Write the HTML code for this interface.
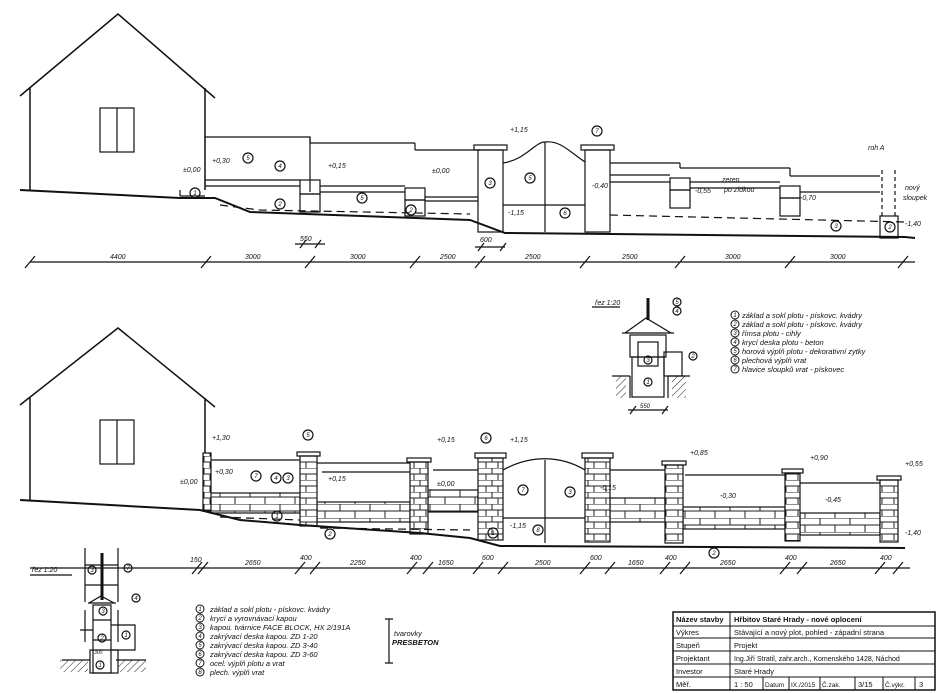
<!DOCTYPE html>
<html><head><meta charset="utf-8"><style>
html,body{margin:0;padding:0;background:#fff}
svg{display:block}
text{font-family:"Liberation Sans",sans-serif;font-style:italic;fill:#111}
.tb text{font-style:normal}
.n{font-size:6px;font-style:normal;text-anchor:middle}
</style></head><body>
<svg width="942" height="693" viewBox="0 0 942 693" xmlns="http://www.w3.org/2000/svg" stroke="#111" fill="none" stroke-width="1.2">
<defs>
<pattern id="brick" width="30" height="14" patternUnits="userSpaceOnUse">
<rect width="30" height="14" fill="#fff" stroke="none"/>
<path d="M0 0H30M0 7H30M10 0V7M25 7V14" stroke="#222" stroke-width="1"/>
</pattern>
<pattern id="pbrick" width="24" height="12" patternUnits="userSpaceOnUse">
<rect width="24" height="12" fill="#fff" stroke="none"/>
<path d="M0 0H24M0 6H24M12 0V6M6 6V12M18 6V12" stroke="#222" stroke-width="1"/>
</pattern>
<pattern id="hatch" width="5" height="5" patternUnits="userSpaceOnUse" patternTransform="rotate(45)">
<path d="M0 0V5" stroke="#222" stroke-width="1"/>
</pattern>
</defs>

<!-- ===== TOP ELEVATION ===== -->
<g>
<path d="M20 96 L118 14 L215 98 M30 88 V190 M205 88 V190" stroke-width="1.5"/>
<rect x="100" y="108" width="34" height="44"/><path d="M117 108V152"/>
<path d="M205 137H310V192 M310 143H415 M415 150H480 M610 163H680 M680 168H790 M790 176H880"/>
<path d="M310 137V143 M415 143V150 M680 163V168 M790 168V176"/>
<path d="M205 180H300 M205 186H300 M320 186H405 M320 192H405 M425 197H478 M425 201H478"/>
<rect x="300" y="180" width="20" height="14"/><rect x="300" y="194" width="20" height="18"/>
<rect x="405" y="188" width="20" height="12"/><rect x="405" y="200" width="20" height="16"/>
<path d="M180 196H205 M180 190V196"/>
<path d="M610 175H670 M610 182H670 M690 182H780 M690 188H780 M800 192H880"/>
<rect x="670" y="178" width="20" height="12"/><rect x="670" y="190" width="20" height="18"/>
<rect x="780" y="186" width="20" height="12"/><rect x="780" y="198" width="20" height="18"/>
<rect x="880" y="216" width="18" height="22"/>
<path d="M882 170V216 M895 170V216" stroke-dasharray="4 3"/>
<rect x="478" y="150" width="25" height="82"/><rect x="474" y="145" width="33" height="5"/>
<rect x="585" y="150" width="25" height="82"/><rect x="581" y="145" width="33" height="5"/>
<path d="M503 163 C525 160 535 142 545 142 C560 140 570 152 585 162 M545 142V232 M503 205H585"/>
<path d="M20 190 L180 198 L215 198 L250 212 L470 220 L505 233 L905 237 L915 238" stroke-width="2"/>
<path d="M220 205 L260 210 L470 214" stroke-dasharray="8 5"/>
<path d="M610 215 L905 222" stroke-dasharray="8 5"/>
<path d="M30 262H915"/>
<path d="M25 268L35 256 M201 268L211 256 M305 268L315 256 M410 268L420 256 M475 268L485 256 M580 268L590 256 M675 268L685 256 M785 268L795 256 M898 268L908 256"/>
<path d="M295 244H325 M300 248L306 240 M315 248L321 240 M475 247H505 M478 251L484 243 M500 251L506 243"/>
<g font-size="7" stroke="none">
<text x="110" y="259">4400</text><text x="245" y="259">3000</text><text x="350" y="259">3000</text><text x="440" y="259">2500</text><text x="525" y="259">2500</text><text x="622" y="259">2500</text><text x="725" y="259">3000</text><text x="830" y="259">3000</text>
<text x="300" y="241">550</text><text x="480" y="242">600</text>
<text x="183" y="172">±0,00</text><text x="212" y="163">+0,30</text><text x="328" y="168">+0,15</text><text x="432" y="173">±0,00</text><text x="510" y="132">+1,15</text><text x="592" y="188">-0,40</text><text x="695" y="193">-0,55</text><text x="722" y="182">zeren</text><text x="724" y="192">po zídkou</text><text x="800" y="200">-0,70</text><text x="868" y="150">roh A</text><text x="905" y="190">nový</text><text x="903" y="200">sloupek</text><text x="905" y="226">-1,40</text><text x="508" y="215">-1,15</text>
</g>
<g>
<circle cx="248" cy="158" r="5"/><circle cx="280" cy="166" r="5"/><circle cx="195" cy="193" r="5"/><circle cx="280" cy="204" r="5"/><circle cx="362" cy="198" r="5"/><circle cx="411" cy="210" r="5"/><circle cx="490" cy="183" r="5"/><circle cx="530" cy="178" r="5"/><circle cx="565" cy="213" r="5"/><circle cx="597" cy="131" r="5"/><circle cx="836" cy="226" r="5"/><circle cx="890" cy="227" r="5"/>
</g>
<g class="n" stroke="none">
<text x="248" y="160">5</text><text x="280" y="168">4</text><text x="195" y="195">1</text><text x="280" y="206">2</text><text x="362" y="200">5</text><text x="411" y="212">2</text><text x="490" y="185">3</text><text x="530" y="180">5</text><text x="565" y="215">6</text><text x="597" y="133">7</text><text x="836" y="228">3</text><text x="890" y="229">2</text>
</g>
</g>

<!-- ===== BOTTOM ELEVATION ===== -->
<g>
<path d="M20 405 L118 328 L215 407 M30 398 V500 M205 398 V500" stroke-width="1.5"/>
<rect x="100" y="420" width="34" height="44"/><path d="M117 420V464"/>
<path d="M210 460H300 M317 463H410 M322 472H410 M433 470H478 M610 470H665 M685 475H785 M785 483H880"/>
<rect x="210" y="493" width="90" height="20" fill="url(#brick)"/>
<rect x="317" y="502" width="93" height="20" fill="url(#brick)"/>
<rect x="428" y="490" width="50" height="22" fill="url(#brick)"/>
<rect x="610" y="498" width="55" height="24" fill="url(#brick)"/>
<rect x="683" y="507" width="102" height="22" fill="url(#brick)"/>
<rect x="800" y="513" width="80" height="22" fill="url(#brick)"/>
<g stroke-width="1.2">
<rect x="203" y="453" width="8" height="58" fill="url(#pbrick)"/>
<rect x="300" y="456" width="17" height="70" fill="url(#pbrick)"/><rect x="297" y="452" width="23" height="4"/>
<rect x="410" y="462" width="18" height="72" fill="url(#pbrick)"/><rect x="407" y="458" width="24" height="4"/>
<rect x="478" y="458" width="25" height="82" fill="url(#pbrick)"/><rect x="475" y="453" width="31" height="5"/>
<rect x="585" y="458" width="25" height="84" fill="url(#pbrick)"/><rect x="582" y="453" width="31" height="5"/>
<rect x="665" y="465" width="18" height="78" fill="url(#pbrick)"/><rect x="662" y="461" width="24" height="4"/>
<rect x="785" y="473" width="15" height="68" fill="url(#pbrick)"/><rect x="782" y="469" width="21" height="4"/>
<rect x="880" y="480" width="18" height="62" fill="url(#pbrick)"/><rect x="877" y="476" width="24" height="4"/>
</g>
<path d="M503 470 C530 455 560 455 585 470 M545 460V543 M503 518H585"/>
<path d="M20 500 L200 510 L240 520 L300 525 L420 533 L470 538 L500 546 L905 548" stroke-width="2"/>
<path d="M220 517 L300 520 M320 528L470 530" stroke-dasharray="8 5"/>
<path d="M30 568H910"/>
<path d="M192 574L202 562 M198 574L208 562 M295 574L305 562 M310 574L320 562 M407 574L417 562 M423 574L433 562 M473 574L483 562 M498 574L508 562 M580 574L590 562 M605 574L615 562 M660 574L670 562 M680 574L690 562 M780 574L790 562 M797 574L807 562 M875 574L885 562 M893 574L903 562"/>
<g font-size="7" stroke="none">
<text x="190" y="562">150</text><text x="245" y="565">2650</text><text x="300" y="560">400</text><text x="350" y="565">2250</text><text x="410" y="560">400</text><text x="438" y="565">1650</text><text x="482" y="560">600</text><text x="535" y="565">2500</text><text x="590" y="560">600</text><text x="628" y="565">1650</text><text x="665" y="560">400</text><text x="720" y="565">2650</text><text x="785" y="560">400</text><text x="830" y="565">2650</text><text x="880" y="560">400</text>
<text x="212" y="440">+1,30</text><text x="215" y="474">+0,30</text><text x="180" y="484">±0,00</text><text x="328" y="481">+0,15</text><text x="437" y="486">±0,00</text><text x="437" y="442">+0,15</text><text x="510" y="442">+1,15</text><text x="510" y="528">-1,15</text><text x="600" y="490">-0,15</text><text x="690" y="455">+0,85</text><text x="720" y="498">-0,30</text><text x="825" y="502">-0,45</text><text x="810" y="460">+0,90</text><text x="905" y="466">+0,55</text><text x="905" y="535">-1,40</text>
</g>
<circle cx="256" cy="476" r="5"/><circle cx="276" cy="478" r="5"/><circle cx="288" cy="478" r="5"/><circle cx="277" cy="516" r="5"/><circle cx="330" cy="534" r="5"/><circle cx="308" cy="435" r="5"/><circle cx="486" cy="438" r="5"/><circle cx="493" cy="533" r="5"/><circle cx="523" cy="490" r="5"/><circle cx="570" cy="492" r="5"/><circle cx="538" cy="530" r="5"/><circle cx="714" cy="553" r="5"/>
<g class="n" stroke="none">
<text x="256" y="478">7</text><text x="276" y="480">4</text><text x="288" y="480">3</text><text x="277" y="518">1</text><text x="330" y="536">2</text><text x="308" y="437">5</text><text x="486" y="440">6</text><text x="493" y="535">1</text><text x="523" y="492">7</text><text x="570" y="494">3</text><text x="538" y="532">8</text><text x="714" y="555">2</text>
</g>
</g>

<!-- ===== SECTION TOP ===== -->
<g>
<text x="595" y="305" font-size="7" stroke="none">řez 1:20</text>
<path d="M592 307H620"/>
<path d="M648 298V320" stroke-width="3"/>
<path d="M625 333 L646 318 L671 333 M622 333H674"/>
<rect x="630" y="335" width="36" height="22"/><rect x="638" y="342" width="20" height="24"/>
<rect x="632" y="357" width="32" height="40"/><rect x="664" y="352" width="18" height="24"/>
<rect x="616" y="376" width="10" height="22" fill="url(#hatch)" stroke="none"/><rect x="672" y="376" width="14" height="22" fill="url(#hatch)" stroke="none"/>
<path d="M612 376H630 M668 376H690 M630 376V398 M668 376V398"/>
<circle cx="677" cy="302" r="4"/><circle cx="677" cy="311" r="4"/><circle cx="648" cy="360" r="4"/><circle cx="648" cy="382" r="4"/><circle cx="693" cy="356" r="4"/>
<g class="n" stroke="none"><text x="677" y="304">5</text><text x="677" y="313">4</text><text x="648" y="362">3</text><text x="648" y="384">1</text><text x="693" y="358">2</text></g>
<path d="M628 410H668 M630 414L636 406 M662 414L668 406"/><text x="640" y="408" font-size="6" stroke="none">550</text>
</g>
<g font-size="7.5" stroke="none">
<text x="742" y="318">základ a sokl plotu - pískovc. kvádry</text>
<text x="742" y="327">základ a sokl plotu - pískovc. kvádry</text>
<text x="742" y="336">římsa plotu - cihly</text>
<text x="742" y="345">krycí deska plotu - beton</text>
<text x="742" y="354">horová výplň plotu - dekorativní zytky</text>
<text x="742" y="363">plechová výplň vrat</text>
<text x="742" y="372">hlavice sloupků vrat - pískovec</text>
</g>
<g stroke-width="1"><circle cx="735" cy="315" r="4"/><circle cx="735" cy="324" r="4"/><circle cx="735" cy="333" r="4"/><circle cx="735" cy="342" r="4"/><circle cx="735" cy="351" r="4"/><circle cx="735" cy="360" r="4"/><circle cx="735" cy="369" r="4"/></g>
<g class="n" stroke="none"><text x="735" y="317">1</text><text x="735" y="326">2</text><text x="735" y="335">3</text><text x="735" y="344">4</text><text x="735" y="353">5</text><text x="735" y="362">6</text><text x="735" y="371">7</text></g>

<!-- ===== SECTION BOTTOM ===== -->
<g>
<text x="32" y="572" font-size="7" stroke="none">řez 1:20</text><path d="M30 575H72"/>
<path d="M85 548V602 M118 548V602 M85 565H118 M85 585H118"/>
<path d="M102 553V600" stroke-width="3"/>
<path d="M89 603 L101 596 L114 603 M88 603H116"/>
<rect x="93" y="605" width="18" height="68"/>
<path d="M85 610V642 M118 610V642 M80 630H93 M111 625H135V650H111 M93 620H111 M93 640H111"/>
<rect x="90" y="650" width="28" height="23"/>
<rect x="60" y="660" width="28" height="12" fill="url(#hatch)" stroke="none"/><rect x="118" y="660" width="28" height="12" fill="url(#hatch)" stroke="none"/>
<path d="M62 660H90 M116 660H146"/>
<circle cx="92" cy="570" r="4"/><circle cx="128" cy="568" r="4"/><circle cx="103" cy="611" r="4"/><circle cx="136" cy="598" r="4"/><circle cx="126" cy="635" r="4"/><circle cx="102" cy="638" r="4"/><circle cx="100" cy="665" r="4"/>
<g class="n" stroke="none"><text x="92" y="572">3</text><text x="128" y="570">7</text><text x="103" y="613">3</text><text x="136" y="600">4</text><text x="126" y="637">1</text><text x="102" y="640">2</text><text x="100" y="667">1</text></g>
<text x="94" y="654" font-size="5" stroke="none">300</text>
</g>
<g font-size="7.5" stroke="none">
<text x="210" y="612">základ a sokl plotu - pískovc. kvádry</text>
<text x="210" y="621">krycí a vyrovnávací kapou</text>
<text x="210" y="630">kapou. tvárnice FACE BLOCK, HX 2/191A</text>
<text x="210" y="639">zakrývací deska kapou. ZD 1-20</text>
<text x="210" y="648">zakrývací deska kapou. ZD 3-40</text>
<text x="210" y="657">zakrývací deska kapou. ZD 3-60</text>
<text x="210" y="666">ocel. výplň plotu a vrat</text>
<text x="210" y="675">plech. výplň vrat</text>
<text x="394" y="636">tvarovky</text><text x="392" y="645" font-weight="bold">PRESBETON</text>
</g>
<path d="M389 619V663 M385 619H393 M385 663H393"/>
<g stroke-width="1"><circle cx="200" cy="609" r="4"/><circle cx="200" cy="618" r="4"/><circle cx="200" cy="627" r="4"/><circle cx="200" cy="636" r="4"/><circle cx="200" cy="645" r="4"/><circle cx="200" cy="654" r="4"/><circle cx="200" cy="663" r="4"/><circle cx="200" cy="672" r="4"/></g>
<g class="n" stroke="none"><text x="200" y="611">1</text><text x="200" y="620">2</text><text x="200" y="629">3</text><text x="200" y="638">4</text><text x="200" y="647">5</text><text x="200" y="656">6</text><text x="200" y="665">7</text><text x="200" y="674">8</text></g>

<!-- ===== TITLE BLOCK ===== -->
<g class="tb" stroke-width="1">
<rect x="673" y="612" width="262" height="78" stroke-width="1.5"/>
<path d="M673 626H935 M673 638H935 M673 651H935 M673 664H935 M673 677H935 M730 612V690"/>
<path d="M763 677V690 M789 677V690 M820 677V690 M855 677V690 M883 677V690 M915 677V690"/>
<g stroke="none" font-size="7.5">
<text x="676" y="622" font-weight="bold">Název stavby</text>
<text x="734" y="622" font-weight="bold">Hřbitov Staré Hrady - nové oplocení</text>
<text x="676" y="635">Výkres</text><text x="734" y="635">Stávající a nový plot, pohled - západní strana</text>
<text x="676" y="648">Stupeň</text><text x="734" y="648">Projekt</text>
<text x="676" y="661">Projektant</text><text x="734" y="661" font-size="7">Ing.Jiří Stratil, zahr.arch., Komenského 1428, Náchod</text>
<text x="676" y="674">Investor</text><text x="734" y="674">Staré Hrady</text>
<text x="676" y="687">Měř.</text><text x="734" y="687">1 : 50</text><text x="765" y="687" font-size="6.5">Datum</text><text x="791" y="687" font-size="6.5">IX./2015</text><text x="822" y="687" font-size="6.5">Č.zak.</text><text x="858" y="687">3/15</text><text x="885" y="687" font-size="6.5">Č.výkr.</text><text x="919" y="687">3</text>
</g>
</g>
</svg>
</body></html>
